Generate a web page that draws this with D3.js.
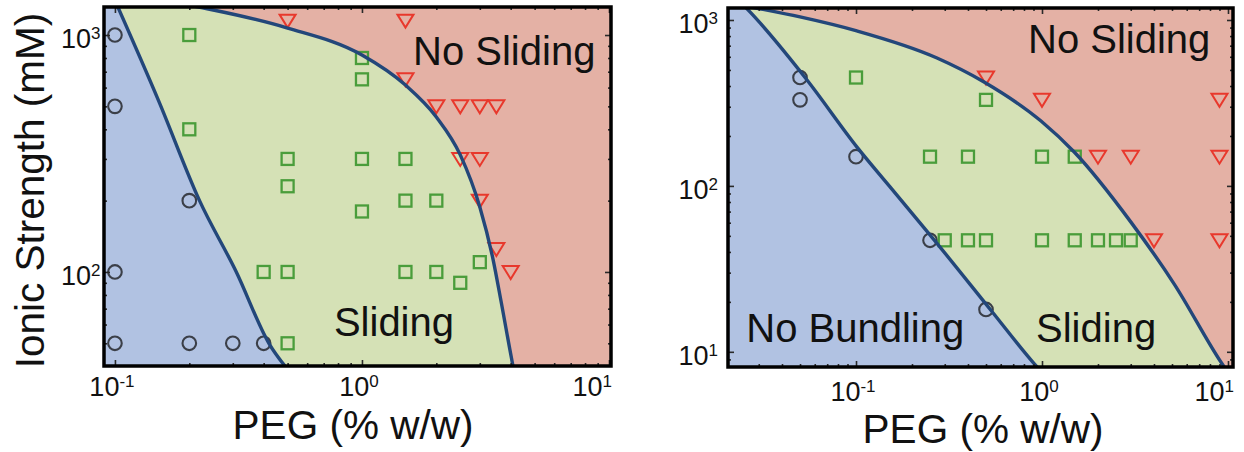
<!DOCTYPE html>
<html lang="en">
<head>
<meta charset="UTF-8">
<title>PEG vs ionic strength phase diagrams</title>
<script src="https://d3js.org/d3.v7.min.js"></script>
<style>
  body { margin: 0; background: #fff; }
  text { font-family: "Liberation Sans", Arial, sans-serif; fill: #111; }
  .tick line { stroke: #2a2a2a; stroke-width: 1.6px; }
</style>
</head>
<body>
<script>
// ---- data (PEG % w/w, ionic strength mM) ----
var leftCircles = [[0.1, 1000], [0.1, 500], [0.2, 200], [0.1, 100], [0.1, 50], [0.2, 50], [0.3, 50], [0.4, 50]];
var leftSquares = [[0.2, 1000], [0.2, 400], [0.5, 300], [0.5, 230], [1, 800], [1, 650], [1, 300], [1, 180],
                   [1.5, 300], [1.5, 200], [2, 200], [0.4, 100], [0.5, 100], [1.5, 100], [2, 100],
                   [2.5, 90], [3, 110], [0.5, 50]];
var leftTriangles = [[0.5, 1150], [1.5, 1150], [1.5, 650], [2, 500], [2.5, 500], [3, 500], [3.5, 500],
                     [2.5, 300], [3, 300], [3, 200], [3.5, 125], [4, 100]];
// phase boundaries
var leftBundleEdge = [[0.1, 1400], [0.15, 530], [0.22, 200], [0.31, 100], [0.42, 50], [0.52, 37]];
var leftSlideEdge = [[0.18, 1360], [0.25, 1275], [0.5, 1070], [1, 824], [1.5, 615], [2, 451], [2.5, 312],
                     [3, 188], [3.4, 112], [3.65, 76], [4.07, 41], [4.15, 37]];

var rightCircles = [[0.05, 450], [0.05, 330], [0.1, 150], [0.25, 47], [0.5, 18]];
var rightSquares = [[0.1, 450], [0.5, 330], [0.25, 150], [0.4, 150], [1, 150], [1.5, 150],
                    [0.3, 47], [0.4, 47], [0.5, 47], [1, 47], [1.5, 47], [2, 47], [2.5, 47], [3, 47]];
var rightTriangles = [[0.5, 450], [1, 330], [9, 330], [2, 150], [3, 150], [9, 150], [4, 47], [9, 47]];
var rightBundleEdge = [[0.022, 1400], [0.0258, 1175], [0.054, 441], [0.101, 172], [0.152, 99],
                       [0.265, 46.8], [0.538, 17.5], [0.902, 8.55], [0.97, 7.8]];
var rightSlideEdge = [[0.024, 1230], [0.0294, 1177], [0.05, 1043], [0.101, 859], [0.2725, 590],
                      [0.488, 423], [0.988, 246], [1.49, 160], [3, 60.7], [5.13, 25.7], [9.29, 8.47], [10, 7.5]];

var xTickExps = [-1, 0, 1];
var leftYTickExps = [2, 3];
var rightYTickExps = [1, 2, 3];
var leftRegionNames = ["No Sliding", "Sliding"];
var rightRegionNames = ["No Sliding", "No Bundling", "Sliding"];
var xTitle = "PEG (% w/w)";
var yTitle = "Ionic Strength (mM)";

// ---- layout ----
var colors = { blue: "#b1c2e2", green: "#d5e1b6", red: "#e4b1a5", line: "#23477a",
               circle: "#3b3f48", square: "#4a9d3b", triangle: "#e8382c" };

var panels = [
  { x0: 104, x1: 611, y0: 7, y1: 366, xDomain: [0.0903, 10.19], yDomain: [40.1, 1313],
    circles: leftCircles, squares: leftSquares, triangles: leftTriangles,
    low: leftBundleEdge, high: leftSlideEdge, yExps: leftYTickExps,
    yLabelGap: 3.5, xLabelY: 395.5, titleX: 353, titleY: 439, showYTitle: true,
    regions: [{ name: leftRegionNames[0], at: [1.61, 747] }, { name: leftRegionNames[1], at: [0.77, 53.7] }] },
  { x0: 728, x1: 1233, y0: 8, y1: 367, xDomain: [0.0205, 10.64], yDomain: [8.1, 1181],
    circles: rightCircles, squares: rightSquares, triangles: rightTriangles,
    low: rightBundleEdge, high: rightSlideEdge, yExps: rightYTickExps,
    yLabelGap: 10, xLabelY: 400.5, titleX: 983, titleY: 443, showYTitle: false,
    regions: [{ name: rightRegionNames[0], at: [0.841, 632] }, { name: rightRegionNames[1], at: [0.0257, 11.5] },
              { name: rightRegionNames[2], at: [0.929, 11.5] }] }
];

var svg = d3.select("body").append("svg")
    .attr("width", 1244)
    .attr("height", 452);

function powLabel(sel, exp) {
  sel.text("10");
  sel.append("tspan").style("font-size", "17px").attr("dy", -9).text(exp);
}

panels.forEach(function(p, i) {
  var x = d3.scaleLog().domain(p.xDomain).range([p.x0, p.x1]);
  var y = d3.scaleLog().domain(p.yDomain).range([p.y1, p.y0]);
  var g = svg.append("g");

  g.append("clipPath").attr("id", "clip" + i)
    .append("rect")
      .attr("x", p.x0).attr("y", p.y0)
      .attr("width", p.x1 - p.x0).attr("height", p.y1 - p.y0);

  var plot = g.append("g").attr("clip-path", "url(#clip" + i + ")");

  plot.append("rect")
      .attr("x", p.x0).attr("y", p.y0)
      .attr("width", p.x1 - p.x0).attr("height", p.y1 - p.y0)
      .attr("fill", colors.red);

  var curve = d3.line()
      .x(function(d) { return x(d[0]); })
      .y(function(d) { return y(d[1]); })
      .curve(d3.curveMonotoneX);

  function region(pts) {
    return curve(pts) + "L" + (p.x0 - 20) + "," + (p.y1 + 20) + "L" + (p.x0 - 20) + "," + (p.y0 - 20) + "Z";
  }

  plot.append("path").attr("d", region(p.high)).attr("fill", colors.green);
  plot.append("path").attr("d", region(p.low)).attr("fill", colors.blue);

  // markers
  plot.selectAll(".circ")
    .data(p.circles)
    .enter().append("circle")
      .attr("cx", function(d) { return x(d[0]); })
      .attr("cy", function(d) { return y(d[1]); })
      .attr("r", 6.8)
      .attr("fill", "none")
      .attr("stroke", colors.circle)
      .attr("stroke-width", 2.1);

  plot.selectAll(".sq")
    .data(p.squares)
    .enter().append("rect")
      .attr("x", function(d) { return x(d[0]) - 6; })
      .attr("y", function(d) { return y(d[1]) - 6; })
      .attr("width", 12)
      .attr("height", 12)
      .attr("fill", "none")
      .attr("stroke", colors.square)
      .attr("stroke-width", 2.3);

  plot.selectAll(".tri")
    .data(p.triangles)
    .enter().append("path")
      .attr("d", function(d) {
        var cx = x(d[0]), cy = y(d[1]);
        return "M" + (cx - 8) + "," + (cy - 6) + "L" + (cx + 8) + "," + (cy - 6) +
               "L" + cx + "," + (cy + 7) + "Z";
      })
      .attr("fill", "none")
      .attr("stroke", colors.triangle)
      .attr("stroke-width", 2);

  // boundaries
  [p.low, p.high].forEach(function(pts) {
    plot.append("path")
        .attr("d", curve(pts))
        .attr("fill", "none")
        .attr("stroke", colors.line)
        .attr("stroke-width", 3.4);
  });

  // ticks on all four sides, pointing inward
  function isMajor(v) { return Math.abs(Math.log10(v) - Math.round(Math.log10(v))) < 1e-6; }
  var xt = x.ticks(), yt = y.ticks();
  var xMajor = xt.filter(isMajor), xMinor = xt.filter(function(v) { return !isMajor(v); });
  var yMajor = yt.filter(isMajor), yMinor = yt.filter(function(v) { return !isMajor(v); });

  function addAxis(axis, tx, ty) {
    g.append("g")
        .attr("transform", "translate(" + tx + "," + ty + ")")
        .call(axis)
        .call(function(s) { s.select(".domain").remove(); });
  }
  [[xMajor, 6], [xMinor, 3]].forEach(function(t) {
    addAxis(d3.axisBottom(x).tickValues(t[0]).tickSize(-t[1]).tickFormat(""), 0, p.y1);
    addAxis(d3.axisTop(x).tickValues(t[0]).tickSize(-t[1]).tickFormat(""), 0, p.y0);
  });
  [[yMajor, 6], [yMinor, 3]].forEach(function(t) {
    addAxis(d3.axisLeft(y).tickValues(t[0]).tickSize(-t[1]).tickFormat(""), p.x0, 0);
    addAxis(d3.axisRight(y).tickValues(t[0]).tickSize(-t[1]).tickFormat(""), p.x1, 0);
  });

  // frame
  g.append("rect")
      .attr("x", p.x0).attr("y", p.y0)
      .attr("width", p.x1 - p.x0).attr("height", p.y1 - p.y0)
      .attr("fill", "none")
      .attr("stroke", "#000")
      .attr("stroke-width", 3.5);

  // tick labels
  xTickExps.forEach(function(e) {
    var t = g.append("text")
        .style("font-size", "27px")
        .attr("text-anchor", "middle")
        .attr("y", p.xLabelY)
        .call(powLabel, e);
    var w = t.node().getComputedTextLength();
    var cx = x(Math.pow(10, e)) - 3;
    if (cx + w / 2 > p.x1 + 1) cx = p.x1 + 1 - w / 2;
    t.attr("x", cx);
  });
  p.yExps.forEach(function(e) {
    g.append("text")
        .style("font-size", "27px")
        .attr("text-anchor", "end")
        .attr("x", p.x0 - p.yLabelGap)
        .attr("y", y(Math.pow(10, e)) + 13)
        .call(powLabel, e);
  });

  // region names
  p.regions.forEach(function(r) {
    g.append("text")
        .style("font-size", "40px")
        .attr("x", x(r.at[0]))
        .attr("y", y(r.at[1]))
        .text(r.name);
  });

  // axis titles
  g.append("text")
      .style("font-size", "40.5px")
      .attr("text-anchor", "middle")
      .attr("x", p.titleX)
      .attr("y", p.titleY)
      .text(xTitle);

  if (p.showYTitle) {
    g.append("text")
        .style("font-size", "40.5px")
        .attr("text-anchor", "middle")
        .attr("transform", "translate(44," + ((p.y0 + p.y1) / 2 + 4) + ") rotate(-90)")
        .text(yTitle);
  }
});
</script>
</body>
</html>
